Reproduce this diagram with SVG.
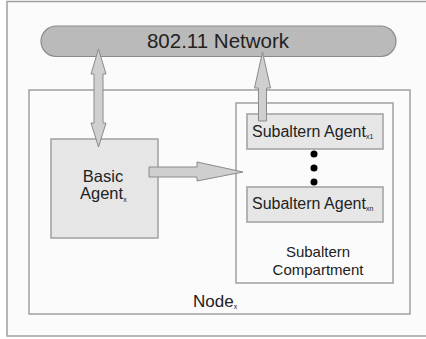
<svg xmlns="http://www.w3.org/2000/svg" width="426" height="339" viewBox="0 0 426 339">
<style>
text{font-family:"Liberation Sans","DejaVu Sans",sans-serif;fill:#222222}
.frame{fill:#fbfbfb;stroke:#a0a0a0;stroke-width:1.5}
.box{fill:#e6e6e6;stroke:#a0a0a0;stroke-width:1.5}
.arrow{fill:#cfcfcf;stroke:#8a8a8a;stroke-width:1}
.sub{font-size:7px}
</style>
<rect x="0" y="0" width="426" height="339" fill="#ffffff"/>
<rect id="outer" x="7" y="1.5" width="430" height="334.5" class="frame"/>
<g id="node">
<rect x="29" y="90" width="381" height="224" class="frame"/>
<text x="193" y="307" font-size="17">Node<tspan class="sub" dy="2">x</tspan></text>
</g>
<g id="compartment">
<rect x="236" y="103" width="157" height="180" class="frame"/>
<text x="318" y="257" font-size="15" text-anchor="middle">Subaltern</text>
<text x="318" y="275" font-size="15" text-anchor="middle">Compartment</text>
</g>
<g id="network">
<rect x="41" y="26" width="355" height="30.5" rx="15.25" ry="15.25" fill="#bababa" stroke="#8a8a8a" stroke-width="1.2"/>
<text x="218" y="48" font-size="20.5" text-anchor="middle">802.11 Network</text>
</g>
<g id="basic">
<rect x="51" y="139" width="107" height="99" class="box"/>
<text x="103" y="182" font-size="16.5" text-anchor="middle">Basic</text>
<text x="80" y="199" font-size="16.5">Agent<tspan class="sub" dy="3">x</tspan></text>
</g>
<g id="sub1">
<rect x="247" y="114" width="136" height="35" class="box"/>
<text x="252" y="137" font-size="16">Subaltern Agent<tspan class="sub" dy="2">x1</tspan></text>
</g>
<g id="subn">
<rect x="247" y="187" width="136" height="35" class="box"/>
<text x="252" y="209" font-size="16">Subaltern Agent<tspan class="sub" dy="2">xn</tspan></text>
</g>
<g id="dots" fill="#000">
<circle cx="314" cy="154" r="3.5"/>
<circle cx="314" cy="168" r="3.5"/>
<circle cx="314" cy="182" r="3.5"/>
</g>
<g id="connectors">
<path class="arrow" d="M98.5 49 L106 74 L103 74 L103 123 L106 123 L98.5 147 L91 123 L94 123 L94 74 L91 74 Z"/>
<path class="arrow" d="M262.5 52 L270.5 88 L266.5 88 L266.5 121 L258.5 121 L258.5 88 L254.5 88 Z"/>
<path class="arrow" d="M149 167 L197 167 L197 162 L243 172 L197 181 L197 177 L149 177 Z"/>
</g>
</svg>
